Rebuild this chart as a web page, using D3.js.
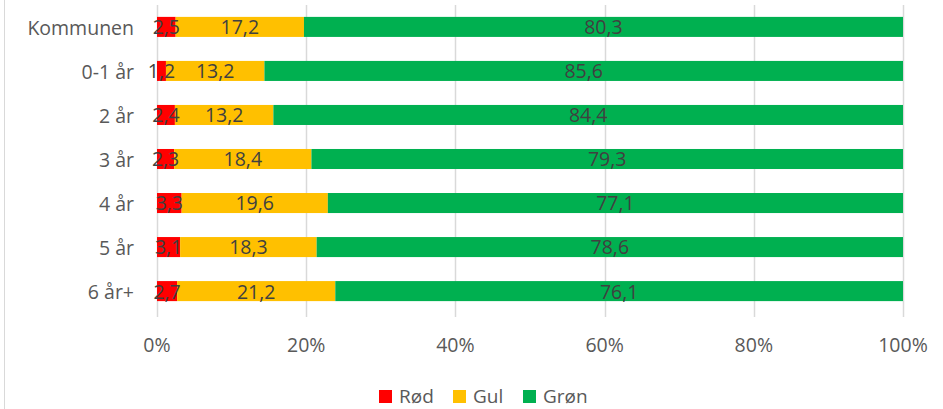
<!DOCTYPE html>
<html>
<head>
<meta charset="utf-8">
<script src="https://cdn.jsdelivr.net/npm/d3@7"></script>
<style>
  body { margin: 0; background: #fff; }
  svg { display: block; font-family: "Open Sans", Lato, "Liberation Sans", sans-serif; }
</style>
</head>
<body>
<div id="chart"></div>
<script>
// Stacked 100% bar chart
const categories = ["Kommunen", "0-1 år", "2 år", "3 år", "4 år", "5 år", "6 år+"];
const seriesNames = ["Rød", "Gul", "Grøn"];
const rod = [2.5, 1.2, 2.4, 2.3, 3.3, 3.1, 2.7];
const gul = [17.2, 13.2, 13.2, 18.4, 19.6, 18.3, 21.2];
const gron = [80.3, 85.6, 84.4, 79.3, 77.1, 78.6, 76.1];
const xTicks = [0, 20, 40, 60, 80, 100];

const colors = ["#ff0000", "#ffc000", "#00b050"];

const [w, h] = [943, 409];
const margin = {top: 5, right: 40, bottom: 96, left: 157};
const fontSize = "19.5px";

const rows = categories.map((c, i) => ({cat: c, "Rød": rod[i], "Gul": gul[i], "Grøn": gron[i]}));
const stacked = d3.stack().keys(seriesNames)(rows);

const xScale = d3.scaleLinear().domain([0, 100]).range([margin.left, w - margin.right]);
const yScale = d3.scaleBand().domain(categories).range([margin.top, h - margin.bottom]).paddingInner(0.545).paddingOuter(0.27);

const svg = d3.select("#chart").append("svg").attr("width", w).attr("height", h);

// left border of chart area
svg.append("line").attr("x1", 4.5).attr("x2", 4.5).attr("y1", 0).attr("y2", h)
  .attr("stroke", "#d9d9d9").attr("stroke-width", 1);

// gridlines
svg.append("g").selectAll("line").data(xTicks).enter().append("line")
  .attr("x1", d => Math.round(xScale(d)) + 0.5)
  .attr("x2", d => Math.round(xScale(d)) + 0.5)
  .attr("y1", margin.top)
  .attr("y2", h - margin.bottom + 4)
  .attr("stroke", "#d9d9d9").attr("stroke-width", 1.5);

// bars
svg.append("g").selectAll("g").data(stacked).enter().append("g")
  .attr("fill", (d, i) => colors[i])
  .selectAll("rect").data(d => d).enter().append("rect")
  .attr("x", d => xScale(d[0]))
  .attr("width", d => xScale(d[1]) - xScale(d[0]))
  .attr("y", d => yScale(d.data.cat))
  .attr("height", yScale.bandwidth());

// data labels, drawn above all bars
const labels = stacked.flatMap(s => s.map(v => ({v, key: s.key})));
svg.append("g").selectAll("text").data(labels).enter().append("text")
  .attr("x", d => xScale((d.v[0] + d.v[1]) / 2))
  .attr("y", d => yScale(d.v.data.cat) + yScale.bandwidth() / 2)
  .attr("dy", "0.38em")
  .attr("text-anchor", "middle")
  .attr("fill", "#404040")
  .style("font-size", fontSize)
  .text(d => String(d.v.data[d.key]).replace(".", ","));

// y axis labels
svg.append("g").selectAll("text").data(categories).enter().append("text")
  .attr("x", 134)
  .attr("y", d => yScale(d) + yScale.bandwidth() / 2)
  .attr("dy", "0.4em")
  .attr("text-anchor", "end")
  .attr("fill", "#595959")
  .style("font-size", fontSize)
  .text(d => d);

// x axis labels
svg.append("g").selectAll("text").data(xTicks).enter().append("text")
  .attr("x", d => xScale(d))
  .attr("y", 352)
  .attr("text-anchor", "middle")
  .attr("fill", "#595959")
  .style("font-size", fontSize)
  .text(d => d + "%");

// legend
const legendX = [379, 453, 523];
const legend = svg.append("g").selectAll("g").data(seriesNames).enter().append("g")
  .attr("transform", (d, i) => `translate(${legendX[i]},390)`);
legend.append("rect").attr("width", 13).attr("height", 13).attr("fill", (d, i) => colors[i]);
legend.append("text").attr("x", 20).attr("y", 13)
  .attr("fill", "#595959").style("font-size", "19px").text(d => d);
</script>
</body>
</html>
